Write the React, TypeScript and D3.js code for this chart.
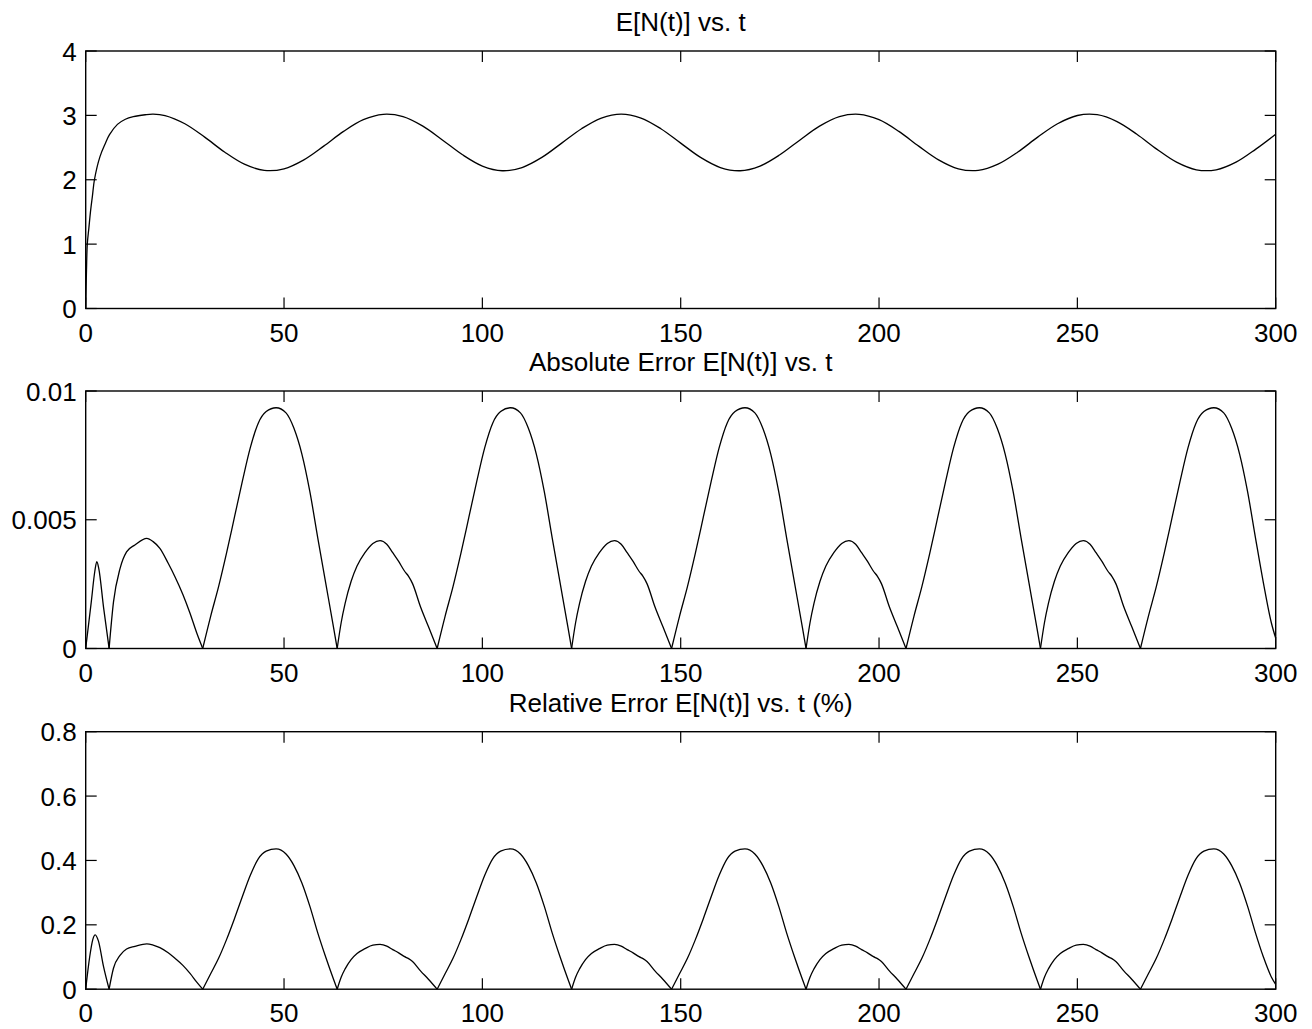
import React, { useEffect } from "react";
import * as d3 from "d3";

// ---------- data ----------
const tE = [0, 0.2, 0.4, 0.8, 1.2, 1.7, 2.2, 3.6, 5, 6, 8, 10, 12, 15, 17,
  20, 25, 30, 35, 40, 45, 50, 55, 60, 65, 70, 75, 80, 85, 90, 95, 100,
  105, 110, 115, 120, 125, 130, 135, 140, 145, 150, 155, 160, 165, 170,
  175, 180, 185, 190, 195, 200, 205, 210, 215, 220, 225, 230, 235, 240,
  245, 250, 255, 260, 265, 270, 275, 280, 285, 290, 295, 300];
const vE = [0, 0.6, 1.0, 1.25, 1.5, 1.75, 2.0, 2.36, 2.57, 2.7, 2.86, 2.94, 2.98, 3.01, 3.02,
  2.998, 2.87, 2.662, 2.431, 2.242, 2.146, 2.17, 2.309, 2.522, 2.751, 2.933, 3.017, 2.981, 2.833, 2.615, 2.388, 2.213,
  2.14, 2.19, 2.347, 2.569, 2.793, 2.959, 3.02, 2.959, 2.793, 2.569, 2.347, 2.19, 2.14, 2.213,
  2.388, 2.615, 2.833, 2.981, 3.017, 2.933, 2.751, 2.522, 2.309, 2.17, 2.146, 2.242, 2.431, 2.662,
  2.87, 2.998, 3.01, 2.903, 2.707, 2.476, 2.273, 2.155, 2.155, 2.273, 2.476, 2.707];

// absolute error, in units of 1e-3
const absT = [
  0, 1.4, 2.3, 2.8, 3.3, 4.5, 5.9,
  7, 8.65, 10.3, 12.4, 15.4, 17, 18.7, 20.8, 22.5, 24.5, 26.3, 28, 29.5,
  31.5, 33.5, 35.5, 37.5, 39.5, 41.5, 43.5, 45.5, 48.0, 50.5, 52.5, 54.5, 56.5, 58.5, 60.5, 62.5, 63.4,
  64.4, 65.4, 66.9, 68.4, 70.4, 72.4, 74.2, 75.9, 77.4, 78.9, 80.4, 81.4, 82.4, 84.4, 86.4, 88.6,
  90.6, 92.6, 94.6, 96.6, 98.6, 100.6, 102.6, 104.6, 107.1, 109.6, 111.6, 113.6, 115.6, 117.6, 119.6, 121.6, 122.5,
  123.5, 124.5, 126.0, 127.5, 129.5, 131.5, 133.3, 135.0, 136.5, 138.0, 139.5, 140.5, 141.5, 143.5, 145.5, 147.7,
  149.7, 151.7, 153.7, 155.7, 157.7, 159.7, 161.7, 163.7, 166.2, 168.7, 170.7, 172.7, 174.7, 176.7, 178.7, 180.7, 181.6,
  182.6, 183.6, 185.1, 186.6, 188.6, 190.6, 192.4, 194.1, 195.6, 197.1, 198.6, 199.6, 200.6, 202.6, 204.6, 206.8,
  208.8, 210.8, 212.8, 214.8, 216.8, 218.8, 220.8, 222.8, 225.3, 227.8, 229.8, 231.8, 233.8, 235.8, 237.8, 239.8, 240.7,
  241.7, 242.7, 244.2, 245.7, 247.7, 249.7, 251.5, 253.2, 254.7, 256.2, 257.7, 258.7, 259.7, 261.7, 263.7, 265.9,
  267.9, 269.9, 271.9, 273.9, 275.9, 277.9, 279.9, 281.9, 284.4, 286.9, 288.9, 290.9, 292.9, 294.9, 296.9, 298.9, 300];
const absV = [
  0, 1.8, 3.0, 3.37, 3.1, 1.6, 0,
  1.8, 3.1, 3.75, 4.02, 4.28, 4.15, 3.89, 3.31, 2.79, 2.1, 1.37, 0.6, 0,
  1.25, 2.4, 3.7, 5.1, 6.5, 7.8, 8.75, 9.2, 9.35, 9.15, 8.55, 7.55, 6.1, 4.3, 2.55, 0.8, 0,
  1.0, 1.75, 2.6, 3.2, 3.72, 4.08, 4.19, 4.05, 3.72, 3.38, 3.0, 2.8, 2.52, 1.62, 0.85, 0,
  1.25, 2.4, 3.7, 5.1, 6.5, 7.8, 8.75, 9.2, 9.35, 9.15, 8.55, 7.55, 6.1, 4.3, 2.55, 0.8, 0,
  1.0, 1.75, 2.6, 3.2, 3.72, 4.08, 4.19, 4.05, 3.72, 3.38, 3.0, 2.8, 2.52, 1.62, 0.85, 0,
  1.25, 2.4, 3.7, 5.1, 6.5, 7.8, 8.75, 9.2, 9.35, 9.15, 8.55, 7.55, 6.1, 4.3, 2.55, 0.8, 0,
  1.0, 1.75, 2.6, 3.2, 3.72, 4.08, 4.19, 4.05, 3.72, 3.38, 3.0, 2.8, 2.52, 1.62, 0.85, 0,
  1.25, 2.4, 3.7, 5.1, 6.5, 7.8, 8.75, 9.2, 9.35, 9.15, 8.55, 7.55, 6.1, 4.3, 2.55, 0.8, 0,
  1.0, 1.75, 2.6, 3.2, 3.72, 4.08, 4.19, 4.05, 3.72, 3.38, 3.0, 2.8, 2.52, 1.62, 0.85, 0,
  1.25, 2.4, 3.7, 5.1, 6.5, 7.8, 8.75, 9.2, 9.35, 9.15, 8.55, 7.55, 6.1, 4.3, 2.55, 1.0, 0.4];

// relative error, percent
const relT = [
  0, 1.0, 1.8, 2.4, 3.2, 4.5, 5.9,
  7, 8.65, 10.3, 12.4, 15.4, 17, 18.7, 20.8, 22.5, 24.5, 26.3, 28, 29.5,
  31.5, 33.5, 35.5, 37.5, 39.5, 41.5, 43.5, 45.5, 48.0, 50.5, 52.5, 54.5, 56.5, 58.5, 60.5, 62.5, 63.4,
  64.4, 65.4, 66.9, 68.4, 70.4, 72.4, 74.2, 75.9, 77.4, 78.9, 80.4, 81.4, 82.4, 84.4, 86.4, 88.6,
  90.6, 92.6, 94.6, 96.6, 98.6, 100.6, 102.6, 104.6, 107.1, 109.6, 111.6, 113.6, 115.6, 117.6, 119.6, 121.6, 122.5,
  123.5, 124.5, 126.0, 127.5, 129.5, 131.5, 133.3, 135.0, 136.5, 138.0, 139.5, 140.5, 141.5, 143.5, 145.5, 147.7,
  149.7, 151.7, 153.7, 155.7, 157.7, 159.7, 161.7, 163.7, 166.2, 168.7, 170.7, 172.7, 174.7, 176.7, 178.7, 180.7, 181.6,
  182.6, 183.6, 185.1, 186.6, 188.6, 190.6, 192.4, 194.1, 195.6, 197.1, 198.6, 199.6, 200.6, 202.6, 204.6, 206.8,
  208.8, 210.8, 212.8, 214.8, 216.8, 218.8, 220.8, 222.8, 225.3, 227.8, 229.8, 231.8, 233.8, 235.8, 237.8, 239.8, 240.7,
  241.7, 242.7, 244.2, 245.7, 247.7, 249.7, 251.5, 253.2, 254.7, 256.2, 257.7, 258.7, 259.7, 261.7, 263.7, 265.9,
  267.9, 269.9, 271.9, 273.9, 275.9, 277.9, 279.9, 281.9, 284.4, 286.9, 288.9, 290.9, 292.9, 294.9, 296.9, 298.9, 300];
const relV = [
  0, 0.1, 0.155, 0.169, 0.15, 0.07, 0,
  0.065, 0.105, 0.125, 0.133, 0.141, 0.137, 0.129, 0.113, 0.096, 0.074, 0.049, 0.022, 0,
  0.048, 0.096, 0.154, 0.219, 0.288, 0.354, 0.405, 0.429, 0.436, 0.42, 0.384, 0.33, 0.258, 0.175, 0.1, 0.03, 0,
  0.037, 0.063, 0.092, 0.111, 0.126, 0.137, 0.139, 0.134, 0.123, 0.113, 0.101, 0.095, 0.086, 0.057, 0.031, 0,
  0.048, 0.096, 0.154, 0.219, 0.288, 0.354, 0.405, 0.429, 0.436, 0.42, 0.384, 0.33, 0.258, 0.175, 0.1, 0.03, 0,
  0.037, 0.063, 0.092, 0.111, 0.126, 0.137, 0.139, 0.134, 0.123, 0.113, 0.101, 0.095, 0.086, 0.057, 0.031, 0,
  0.048, 0.096, 0.154, 0.219, 0.288, 0.354, 0.405, 0.429, 0.436, 0.42, 0.384, 0.33, 0.258, 0.175, 0.1, 0.03, 0,
  0.037, 0.063, 0.092, 0.111, 0.126, 0.137, 0.139, 0.134, 0.123, 0.113, 0.101, 0.095, 0.086, 0.057, 0.031, 0,
  0.048, 0.096, 0.154, 0.219, 0.288, 0.354, 0.405, 0.429, 0.436, 0.42, 0.384, 0.33, 0.258, 0.175, 0.1, 0.03, 0,
  0.037, 0.063, 0.092, 0.111, 0.126, 0.137, 0.139, 0.134, 0.123, 0.113, 0.101, 0.095, 0.086, 0.057, 0.031, 0,
  0.048, 0.096, 0.154, 0.219, 0.288, 0.354, 0.405, 0.429, 0.436, 0.42, 0.384, 0.33, 0.258, 0.175, 0.1, 0.038, 0.015];

const xTicks = [0, 50, 100, 150, 200, 250, 300];
const xTickLabels = ["0", "50", "100", "150", "200", "250", "300"];
const yTicksTop = [0, 1, 2, 3, 4];
const yLabelsTop = ["0", "1", "2", "3", "4"];
const yTicksMid = [0, 0.005, 0.01];
const yLabelsMid = ["0", "0.005", "0.01"];
const yTicksBot = [0, 0.2, 0.4, 0.6, 0.8];
const yLabelsBot = ["0", "0.2", "0.4", "0.6", "0.8"];
const titles = ["E[N(t)] vs. t", "Absolute Error E[N(t)] vs. t", "Relative Error E[N(t)] vs. t (%)"];

// ---------- layout ----------
const W = 1312, H = 1029;
const LEFT = 85.7, RIGHT = 1275.7;
const TOPS = [51, 391, 731.7];
const PH = 257.5;
const TICK = 11;
const FONT = "'Liberation Sans', Arial, Helvetica, sans-serif";
const FS = 26;

type Pt = [number, number];

function segmentsAtZeros(ts: number[], vs: number[]): Pt[][] {
  const segs: Pt[][] = [];
  let cur: Pt[] = [];
  for (let i = 0; i < ts.length; i++) {
    cur.push([ts[i], vs[i]]);
    if (vs[i] === 0 && i > 0 && i < ts.length - 1) {
      segs.push(cur);
      cur = [[ts[i], vs[i]]];
    }
  }
  if (cur.length > 1) segs.push(cur);
  return segs;
}

function Panel(props: {
  top: number; title: string; yDomain: [number, number];
  yTicks: number[]; yLabels: string[]; paths: (x: any, y: any) => string[];
}) {
  const { top, title, yDomain, yTicks, yLabels } = props;
  const bottom = top + PH;
  const x = d3.scaleLinear().domain([0, 300]).range([LEFT, RIGHT]);
  const y = d3.scaleLinear().domain(yDomain).range([bottom, top]);
  const paths = props.paths(x, y);
  const cx = (LEFT + RIGHT) / 2;
  return (
    <g>
      <text x={cx} y={top - 20} textAnchor="middle" fontFamily={FONT} fontSize={FS} fill="#000">{title}</text>
      {paths.map((d, i) => (
        <path key={i} d={d} fill="none" stroke="#000" strokeWidth={1.3} strokeLinejoin="round" />
      ))}
      <rect x={LEFT} y={top} width={RIGHT - LEFT} height={PH} fill="none" stroke="#000" strokeWidth={1.4} />
      {xTicks.map((t, i) => (
        <g key={"x" + i}>
          <line x1={x(t)} x2={x(t)} y1={bottom} y2={bottom - TICK} stroke="#000" strokeWidth={1.2} />
          <line x1={x(t)} x2={x(t)} y1={top} y2={top + TICK} stroke="#000" strokeWidth={1.2} />
          <text x={x(t)} y={bottom + 33} textAnchor="middle" fontFamily={FONT} fontSize={FS} fill="#000">{xTickLabels[i]}</text>
        </g>
      ))}
      {yTicks.map((v, i) => (
        <g key={"y" + i}>
          <line x1={LEFT} x2={LEFT + TICK} y1={y(v)} y2={y(v)} stroke="#000" strokeWidth={1.2} />
          <line x1={RIGHT} x2={RIGHT - TICK} y1={y(v)} y2={y(v)} stroke="#000" strokeWidth={1.2} />
          <text x={LEFT - 9} y={y(v) + 9.5} textAnchor="end" fontFamily={FONT} fontSize={FS} fill="#000">{yLabels[i]}</text>
        </g>
      ))}
    </g>
  );
}

export default function App() {
  useEffect(() => {
    document.body.style.margin = "0";
  }, []);

  const topPaths = (x: any, y: any) => {
    const line = d3.line<Pt>().x(d => x(d[0])).y(d => y(d[1])).curve(d3.curveCatmullRom.alpha(0.5));
    const pts: Pt[] = tE.map((t, i) => [t, vE[i]]);
    return [line(pts) as string];
  };
  const absPaths = (x: any, y: any) => {
    const line = d3.line<Pt>().x(d => x(d[0])).y(d => y(d[1] / 1000)).curve(d3.curveMonotoneX);
    return segmentsAtZeros(absT, absV).map(s => line(s) as string);
  };
  const relPaths = (x: any, y: any) => {
    const line = d3.line<Pt>().x(d => x(d[0])).y(d => y(d[1])).curve(d3.curveMonotoneX);
    return segmentsAtZeros(relT, relV).map(s => line(s) as string);
  };

  return (
    <svg width={W} height={H} style={{ position: "absolute", left: 0, top: 0, background: "#fff" }}>
      <rect x={0} y={0} width={W} height={H} fill="#fff" />
      <Panel top={TOPS[0]} title={titles[0]} yDomain={[0, 4]} yTicks={yTicksTop} yLabels={yLabelsTop} paths={topPaths} />
      <Panel top={TOPS[1]} title={titles[1]} yDomain={[0, 0.01]} yTicks={yTicksMid} yLabels={yLabelsMid} paths={absPaths} />
      <Panel top={TOPS[2]} title={titles[2]} yDomain={[0, 0.8]} yTicks={yTicksBot} yLabels={yLabelsBot} paths={relPaths} />
    </svg>
  );
}
